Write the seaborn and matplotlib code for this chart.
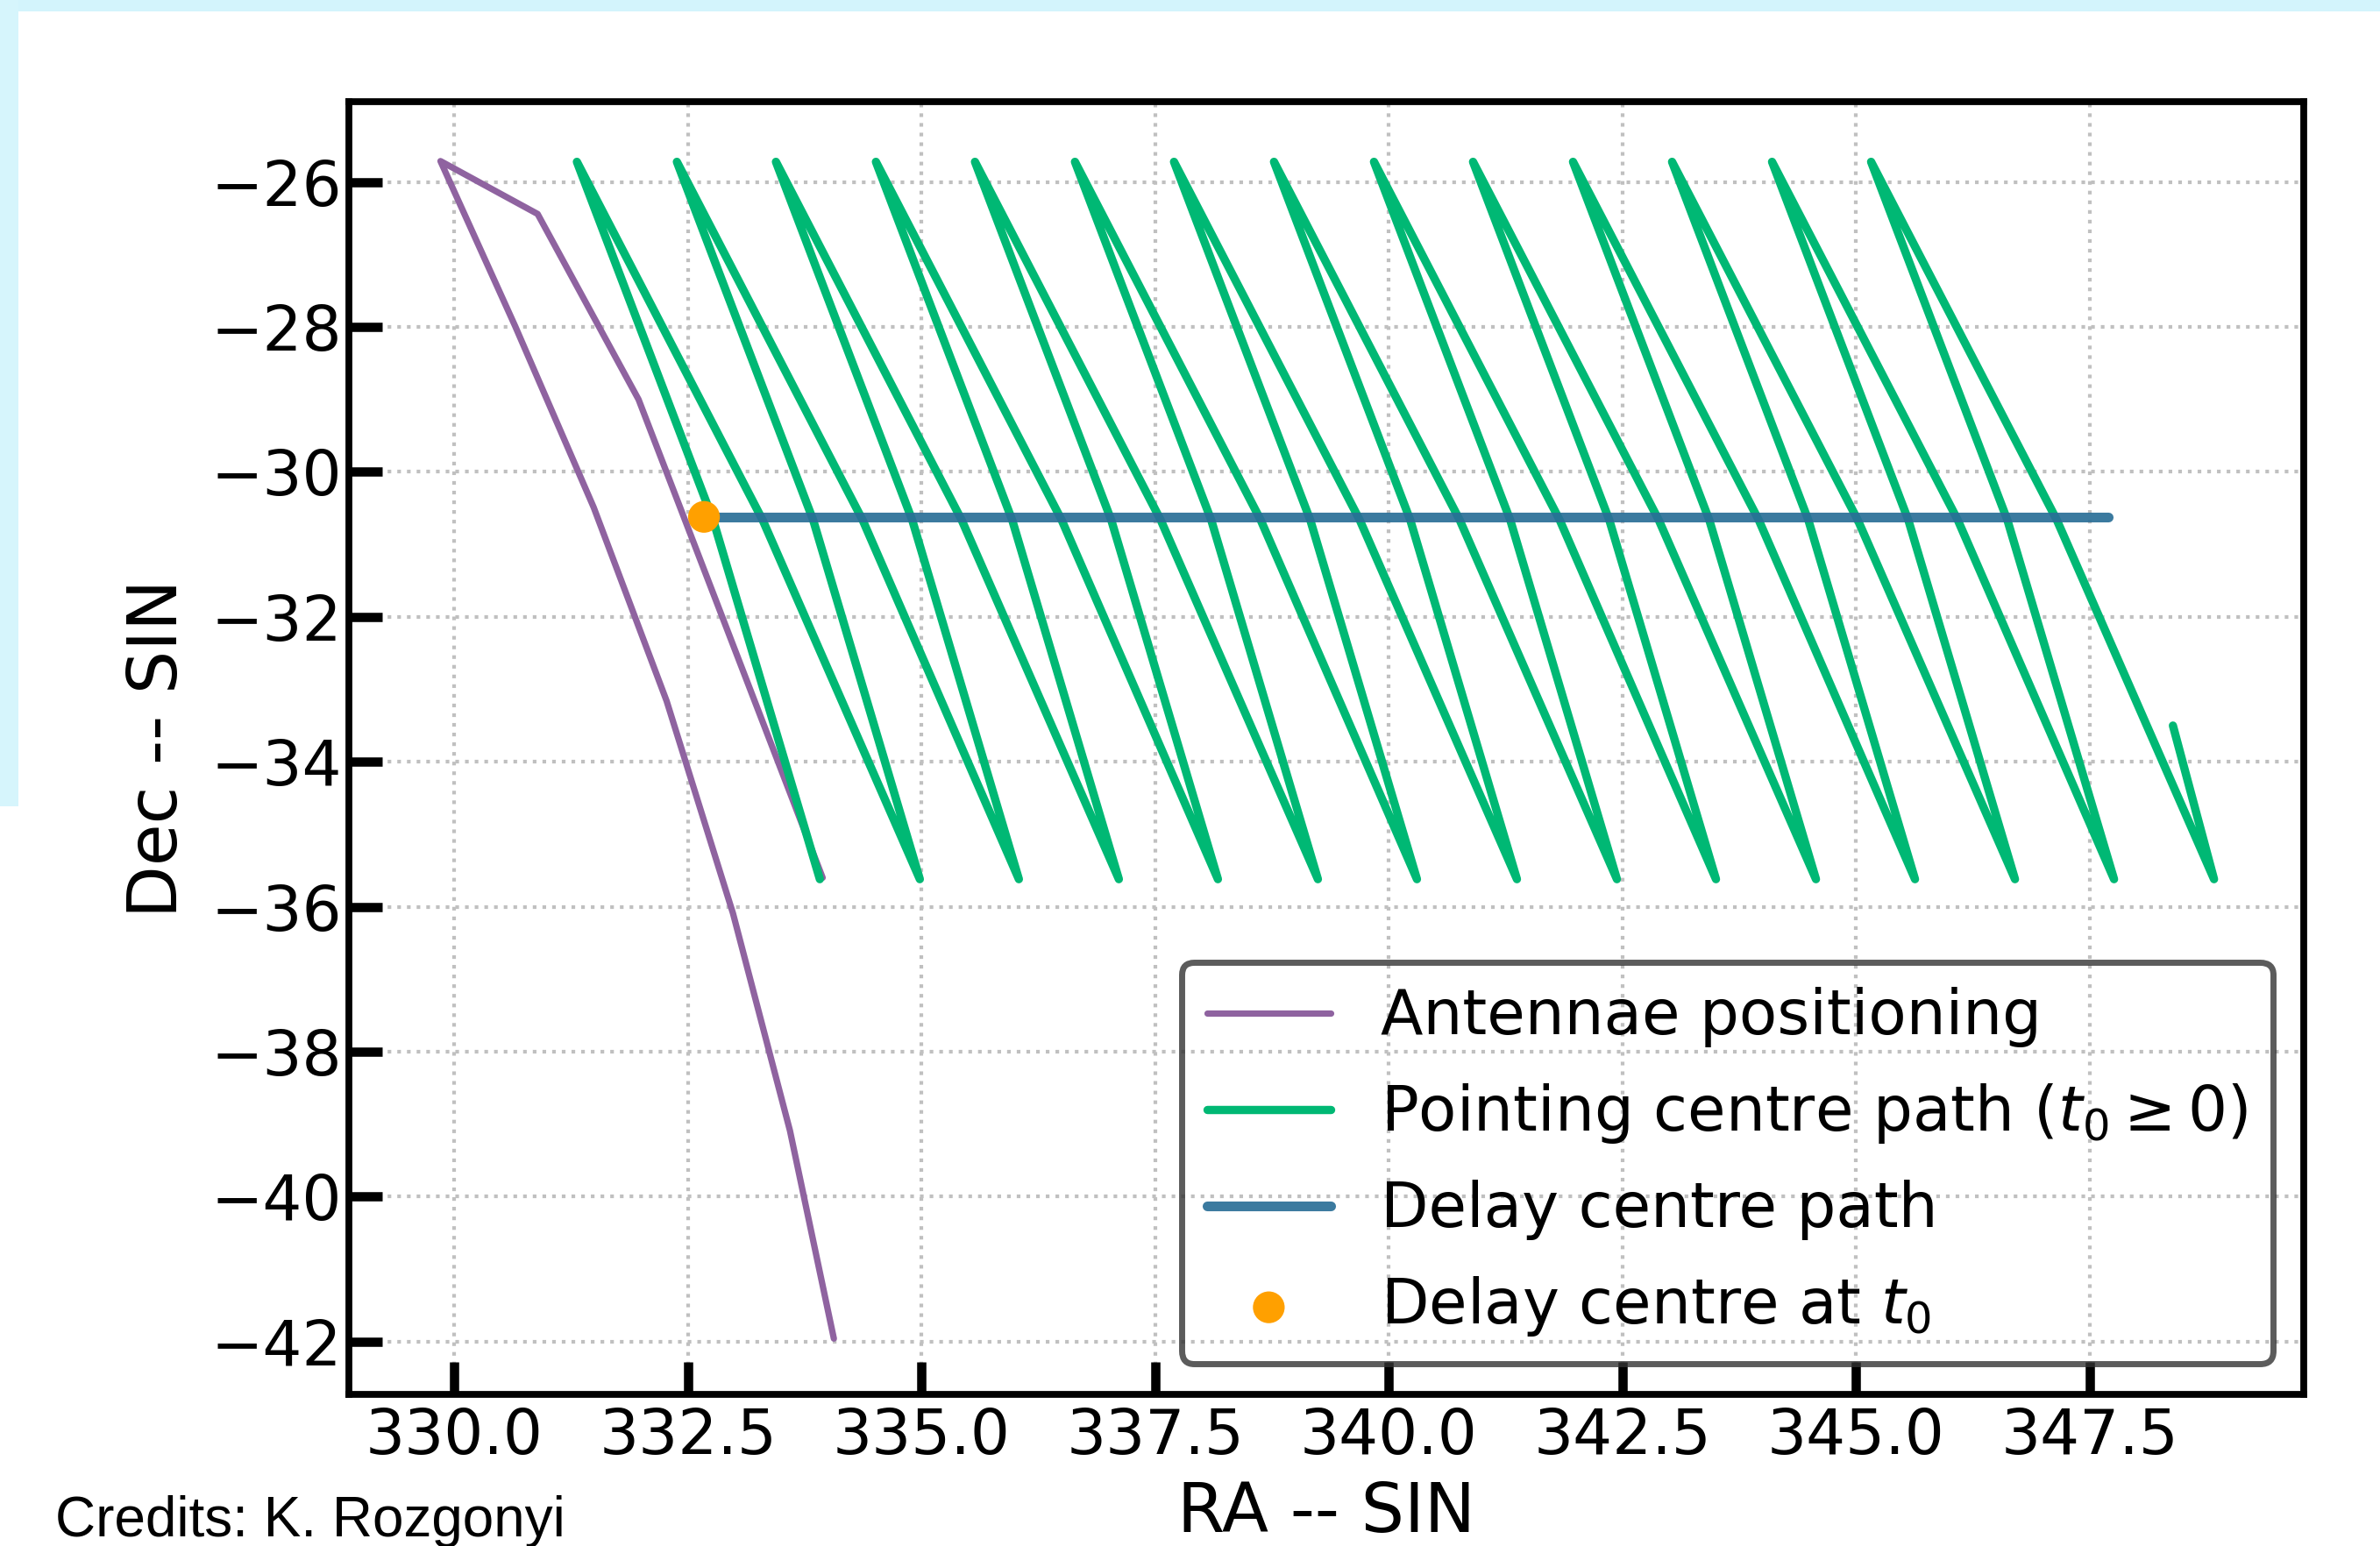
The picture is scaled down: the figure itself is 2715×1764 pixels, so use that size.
import numpy as np
import pandas as pd
import matplotlib
matplotlib.use("Agg")
import matplotlib.pyplot as plt
import seaborn as sns
from matplotlib.patches import Rectangle

# antenna positioning path (RA, Dec)
ant_ra = [334.06, 333.59, 332.98, 332.27, 331.49, 330.65, 329.85, 330.89, 331.97, 333.94]
ant_dec = [-41.96, -39.09, -36.09, -33.16, -30.49, -27.99, -25.71, -26.44, -29.00, -35.60]

# pointing centre path: bottom -> mid -> top -> mid -> bottom ...
point_ra = [333.91, 332.77, 331.31, 333.30,
            334.98, 333.84, 332.38, 334.37,
            336.04, 334.90, 333.44, 335.43,
            337.11, 335.97, 334.51, 336.50,
            338.17, 337.03, 335.57, 337.56,
            339.24, 338.10, 336.64, 338.63,
            340.30, 339.16, 337.70, 339.69,
            341.37, 340.23, 338.77, 340.76,
            342.44, 341.30, 339.84, 341.83,
            343.50, 342.36, 340.90, 342.89,
            344.57, 343.43, 341.97, 343.96,
            345.63, 344.49, 343.03, 345.02,
            346.70, 345.56, 344.10, 346.09,
            347.76, 346.62, 345.16, 347.15,
            348.83, 348.39]
point_dec = [-35.62, -30.67, -25.72, -30.67,
             -35.62, -30.67, -25.72, -30.67,
             -35.62, -30.67, -25.72, -30.67,
             -35.62, -30.67, -25.72, -30.67,
             -35.62, -30.67, -25.72, -30.67,
             -35.62, -30.67, -25.72, -30.67,
             -35.62, -30.67, -25.72, -30.67,
             -35.62, -30.67, -25.72, -30.67,
             -35.62, -30.67, -25.72, -30.67,
             -35.62, -30.67, -25.72, -30.67,
             -35.62, -30.67, -25.72, -30.67,
             -35.62, -30.67, -25.72, -30.67,
             -35.62, -30.67, -25.72, -30.67,
             -35.62, -30.67, -25.72, -30.67,
             -35.62, -33.50]

# delay centre path and delay centre at t0
delay_ra = [332.67, 347.70]
delay_dec = [-30.62, -30.62]
t0_ra = [332.67]
t0_dec = [-30.62]

x_ticks = [330.0, 332.5, 335.0, 337.5, 340.0, 342.5, 345.0, 347.5]
y_ticks = [-26, -28, -30, -32, -34, -36, -38, -40, -42]

purple = "#8f63a0"
green = "#00b874"
blue = "#2a6f97"
orange = "#ffa000"

sns.set_style("white")
plt.rcParams['font.family'] = ['DejaVu Sans']
plt.rcParams['mathtext.fontset'] = 'dejavusans'
plt.rcParams['text.color'] = 'black'
plt.rcParams['axes.labelcolor'] = 'black'
plt.rcParams['xtick.color'] = 'black'
plt.rcParams['ytick.color'] = 'black'

fig = plt.figure(figsize=(13.575, 8.82), dpi=200)
fig.patch.set_facecolor("white")
# light blue slide border
fig.add_artist(Rectangle((0, 1 - 13/1764), 1, 13/1764, transform=fig.transFigure,
                         color="#d3f4fc", lw=0, zorder=-10))
fig.add_artist(Rectangle((0, 1 - 920/1764), 21/2715, 920/1764, transform=fig.transFigure,
                         color="#d6f5fc", lw=0, zorder=-10))

ax = fig.add_axes([398/2715, 1 - 1591/1764, (2628-398)/2715, (1591-116)/1764])

sns.lineplot(x=ant_ra, y=ant_dec, sort=False, estimator=None, color=purple, lw=2.6,
             label="Antennae positioning", ax=ax)
sns.lineplot(x=point_ra, y=point_dec, sort=False, estimator=None, color=green, lw=3.4,
             solid_capstyle="round", solid_joinstyle="round",
             label=r"Pointing centre path ($t_0 \geq 0$)", ax=ax)
sns.lineplot(x=delay_ra, y=delay_dec, sort=False, estimator=None, color=blue, lw=4.0,
             alpha=0.92, label="Delay centre path", ax=ax)
sns.scatterplot(x=t0_ra, y=t0_dec, color=orange, s=170, edgecolor="none", zorder=5,
                label="Delay centre at $t_0$", ax=ax)

ax.set_xlim(328.87, 349.79)
ax.set_ylim(-42.73, -24.89)
ax.set_xticks(x_ticks)
ax.set_xticklabels([f"{v:.1f}" for v in x_ticks])
ax.set_yticks(y_ticks)
ax.grid(True, linestyle=":", color="#c0c0c0", lw=1.5)
ax.tick_params(direction="in", length=13.5, width=3.8, labelsize=25.5,
               left=True, bottom=True, top=False, right=False, colors="black")
ax.tick_params(axis="y", pad=3)
ax.tick_params(axis="x", pad=5)
for s in ax.spines.values():
    s.set_linewidth(2.8)
    s.set_color("black")

ax.set_xlabel("RA -- SIN", fontsize=28, labelpad=5)
ax.set_ylabel("Dec -- SIN", fontsize=28, labelpad=8)

leg = ax.legend(loc="lower right", fontsize=25.5, frameon=True, fancybox=True,
                labelspacing=0.55)
leg.get_frame().set_edgecolor("#333333")
leg.get_frame().set_linewidth(2.5)
leg.get_frame().set_facecolor("none")

fig.text(63/2715, 11/1764, "Credits: K. Rozgonyi", fontsize=23,
         family=["Liberation Sans", "DejaVu Sans"], va="baseline")

fig.savefig("out.png", dpi=200)
